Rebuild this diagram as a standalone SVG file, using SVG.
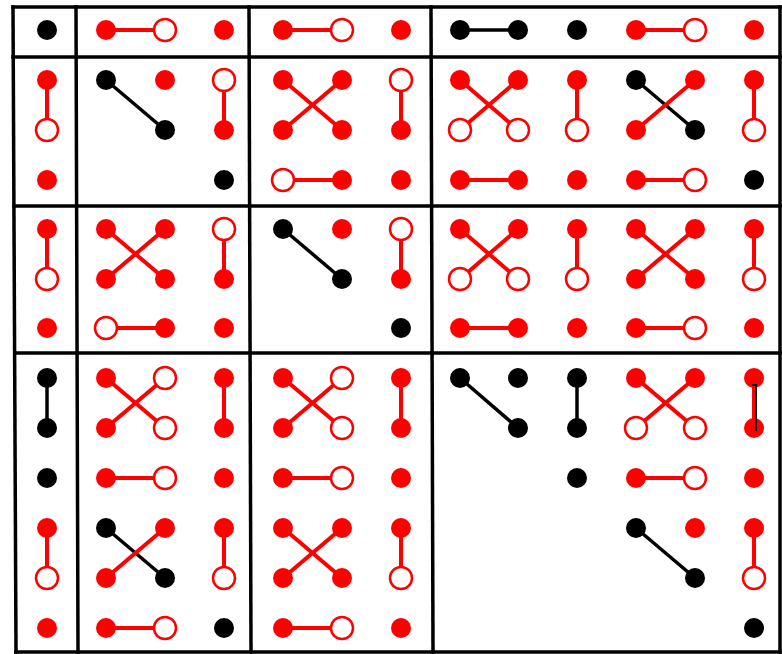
<svg xmlns="http://www.w3.org/2000/svg" width="782" height="654" viewBox="0 0 782 654">
<style>
.g{stroke:#000;stroke-width:3.5;fill:none;stroke-linecap:square}
.lr{stroke:#f00;stroke-width:4;fill:none}
.lk{stroke:#000;stroke-width:3.5;fill:none}
.f{fill:#f00}
.o{fill:#fff;stroke:#f00;stroke-width:2.5}
.k{fill:#000}
</style>
<rect width="782" height="654" fill="#fff"/>
<g id="grid">
<line class="g" x1="13" y1="7" x2="780" y2="7"/>
<line class="g" x1="13" y1="57" x2="780" y2="57"/>
<line class="g" x1="14" y1="206" x2="780" y2="206"/>
<line class="g" x1="15" y1="353" x2="780" y2="353"/>
<line class="g" x1="16" y1="652" x2="780" y2="652"/>
<line class="g" x1="13" y1="7" x2="16" y2="652"/>
<line class="g" x1="76" y1="7" x2="78" y2="652"/>
<line class="g" x1="249" y1="7" x2="251" y2="652"/>
<line class="g" x1="431" y1="7" x2="433" y2="652"/>
<line class="g" x1="780" y1="7" x2="780" y2="652"/>
</g>
<g id="connectors">
<!-- row 1 -->
<line class="lr" x1="106" y1="30" x2="165" y2="30"/>
<line class="lr" x1="283" y1="30" x2="342" y2="30"/>
<line class="lk" x1="460" y1="30" x2="518" y2="30"/>
<line class="lr" x1="636" y1="30" x2="695" y2="30"/>
<!-- band 2 -->
<line class="lr" x1="47" y1="80" x2="47" y2="130"/>
<line class="lk" x1="106" y1="80" x2="165" y2="130"/>
<line class="lr" x1="224" y1="80" x2="224" y2="130"/>
<line class="lr" x1="283" y1="80" x2="342" y2="130"/>
<line class="lr" x1="342" y1="80" x2="283" y2="130"/>
<line class="lr" x1="401" y1="80" x2="401" y2="130"/>
<line class="lr" x1="283" y1="180" x2="342" y2="180"/>
<line class="lr" x1="460" y1="80" x2="518" y2="130"/>
<line class="lr" x1="518" y1="80" x2="460" y2="130"/>
<line class="lr" x1="577" y1="80" x2="577" y2="130"/>
<line class="lk" x1="636" y1="80" x2="695" y2="130"/>
<line class="lr" x1="695" y1="80" x2="636" y2="130"/>
<line class="lr" x1="754" y1="80" x2="754" y2="130"/>
<line class="lr" x1="460" y1="180" x2="518" y2="180"/>
<line class="lr" x1="636" y1="180" x2="695" y2="180"/>
<!-- band 3 -->
<line class="lr" x1="47" y1="229" x2="47" y2="279"/>
<line class="lr" x1="106" y1="229" x2="165" y2="279"/>
<line class="lr" x1="165" y1="229" x2="106" y2="279"/>
<line class="lr" x1="224" y1="229" x2="224" y2="279"/>
<line class="lr" x1="106" y1="328" x2="165" y2="328"/>
<line class="lk" x1="283" y1="229" x2="342" y2="279"/>
<line class="lr" x1="401" y1="229" x2="401" y2="279"/>
<line class="lr" x1="460" y1="229" x2="518" y2="279"/>
<line class="lr" x1="518" y1="229" x2="460" y2="279"/>
<line class="lr" x1="577" y1="229" x2="577" y2="279"/>
<line class="lr" x1="636" y1="229" x2="695" y2="279"/>
<line class="lr" x1="695" y1="229" x2="636" y2="279"/>
<line class="lr" x1="754" y1="229" x2="754" y2="279"/>
<line class="lr" x1="460" y1="328" x2="518" y2="328"/>
<line class="lr" x1="636" y1="328" x2="695" y2="328"/>
<!-- band 4 -->
<line class="lk" x1="47" y1="378" x2="47" y2="428"/>
<line class="lr" x1="47" y1="528" x2="47" y2="578"/>
<line class="lr" x1="106" y1="378" x2="165" y2="428"/>
<line class="lr" x1="165" y1="378" x2="106" y2="428"/>
<line class="lr" x1="224" y1="378" x2="224" y2="428"/>
<line class="lr" x1="106" y1="478" x2="165" y2="478"/>
<line class="lk" x1="106" y1="528" x2="165" y2="578"/>
<line class="lr" x1="165" y1="528" x2="106" y2="578"/>
<line class="lr" x1="224" y1="528" x2="224" y2="578"/>
<line class="lr" x1="106" y1="628" x2="165" y2="628"/>
<line class="lr" x1="283" y1="378" x2="342" y2="428"/>
<line class="lr" x1="342" y1="378" x2="283" y2="428"/>
<line class="lr" x1="401" y1="378" x2="401" y2="428"/>
<line class="lr" x1="283" y1="478" x2="342" y2="478"/>
<line class="lr" x1="283" y1="528" x2="342" y2="578"/>
<line class="lr" x1="342" y1="528" x2="283" y2="578"/>
<line class="lr" x1="401" y1="528" x2="401" y2="578"/>
<line class="lr" x1="283" y1="628" x2="342" y2="628"/>
<line class="lk" x1="460" y1="378" x2="518" y2="428"/>
<line class="lk" x1="577" y1="378" x2="577" y2="428"/>
<line class="lr" x1="636" y1="378" x2="695" y2="428"/>
<line class="lr" x1="695" y1="378" x2="636" y2="428"/>
<line class="lr" x1="754" y1="378" x2="754" y2="428"/>
<line class="lr" x1="636" y1="478" x2="695" y2="478"/>
<line class="lk" x1="636" y1="528" x2="695" y2="578"/>
<line class="lr" x1="754" y1="528" x2="754" y2="578"/>
</g>
<g id="nodes">
<g id="n1-1"><circle class="k" cx="47" cy="30" r="10"/></g>
<g id="n1-2"><circle class="f" cx="106" cy="30" r="10"/></g>
<g id="n1-3"><circle class="o" cx="165" cy="30" r="11"/></g>
<g id="n1-4"><circle class="f" cx="224" cy="30" r="10"/></g>
<g id="n1-5"><circle class="f" cx="283" cy="30" r="10"/></g>
<g id="n1-6"><circle class="o" cx="342" cy="30" r="11"/></g>
<g id="n1-7"><circle class="f" cx="401" cy="30" r="10"/></g>
<g id="n1-8"><circle class="k" cx="460" cy="30" r="10"/></g>
<g id="n1-9"><circle class="k" cx="518" cy="30" r="10"/></g>
<g id="n1-10"><circle class="k" cx="577" cy="30" r="10"/></g>
<g id="n1-11"><circle class="f" cx="636" cy="30" r="10"/></g>
<g id="n1-12"><circle class="o" cx="695" cy="30" r="11"/></g>
<g id="n1-13"><circle class="f" cx="754" cy="30" r="10"/></g>

<g id="n2-1"><circle class="f" cx="47" cy="80" r="10"/></g>
<g id="n2-2"><circle class="k" cx="106" cy="80" r="10"/></g>
<g id="n2-3"><circle class="f" cx="165" cy="80" r="10"/></g>
<g id="n2-4"><circle class="o" cx="224" cy="80" r="11"/></g>
<g id="n2-5"><circle class="f" cx="283" cy="80" r="10"/></g>
<g id="n2-6"><circle class="f" cx="342" cy="80" r="10"/></g>
<g id="n2-7"><circle class="o" cx="401" cy="80" r="11"/></g>
<g id="n2-8"><circle class="f" cx="460" cy="80" r="10"/></g>
<g id="n2-9"><circle class="f" cx="518" cy="80" r="10"/></g>
<g id="n2-10"><circle class="f" cx="577" cy="80" r="10"/></g>
<g id="n2-11"><circle class="k" cx="636" cy="80" r="10"/></g>
<g id="n2-12"><circle class="f" cx="695" cy="80" r="10"/></g>
<g id="n2-13"><circle class="f" cx="754" cy="80" r="10"/></g>

<g id="n3-1"><circle class="o" cx="47" cy="130" r="11"/></g>
<g id="n3-3"><circle class="k" cx="165" cy="130" r="10"/></g>
<g id="n3-4"><circle class="f" cx="224" cy="130" r="10"/></g>
<g id="n3-5"><circle class="f" cx="283" cy="130" r="10"/></g>
<g id="n3-6"><circle class="f" cx="342" cy="130" r="10"/></g>
<g id="n3-7"><circle class="f" cx="401" cy="130" r="10"/></g>
<g id="n3-8"><circle class="o" cx="460" cy="130" r="11"/></g>
<g id="n3-9"><circle class="o" cx="518" cy="130" r="11"/></g>
<g id="n3-10"><circle class="o" cx="577" cy="130" r="11"/></g>
<g id="n3-11"><circle class="f" cx="636" cy="130" r="10"/></g>
<g id="n3-12"><circle class="k" cx="695" cy="130" r="10"/></g>
<g id="n3-13"><circle class="o" cx="754" cy="130" r="11"/></g>

<g id="n4-1"><circle class="f" cx="47" cy="180" r="10"/></g>
<g id="n4-4"><circle class="k" cx="224" cy="180" r="10"/></g>
<g id="n4-5"><circle class="o" cx="283" cy="180" r="11"/></g>
<g id="n4-6"><circle class="f" cx="342" cy="180" r="10"/></g>
<g id="n4-7"><circle class="f" cx="401" cy="180" r="10"/></g>
<g id="n4-8"><circle class="f" cx="460" cy="180" r="10"/></g>
<g id="n4-9"><circle class="f" cx="518" cy="180" r="10"/></g>
<g id="n4-10"><circle class="f" cx="577" cy="180" r="10"/></g>
<g id="n4-11"><circle class="f" cx="636" cy="180" r="10"/></g>
<g id="n4-12"><circle class="o" cx="695" cy="180" r="11"/></g>
<g id="n4-13"><circle class="k" cx="754" cy="180" r="10"/></g>

<g id="n5-1"><circle class="f" cx="47" cy="229" r="10"/></g>
<g id="n5-2"><circle class="f" cx="106" cy="229" r="10"/></g>
<g id="n5-3"><circle class="f" cx="165" cy="229" r="10"/></g>
<g id="n5-4"><circle class="o" cx="224" cy="229" r="11"/></g>
<g id="n5-5"><circle class="k" cx="283" cy="229" r="10"/></g>
<g id="n5-6"><circle class="f" cx="342" cy="229" r="10"/></g>
<g id="n5-7"><circle class="o" cx="401" cy="229" r="11"/></g>
<g id="n5-8"><circle class="f" cx="460" cy="229" r="10"/></g>
<g id="n5-9"><circle class="f" cx="518" cy="229" r="10"/></g>
<g id="n5-10"><circle class="f" cx="577" cy="229" r="10"/></g>
<g id="n5-11"><circle class="f" cx="636" cy="229" r="10"/></g>
<g id="n5-12"><circle class="f" cx="695" cy="229" r="10"/></g>
<g id="n5-13"><circle class="f" cx="754" cy="229" r="10"/></g>

<g id="n6-1"><circle class="o" cx="47" cy="279" r="11"/></g>
<g id="n6-2"><circle class="f" cx="106" cy="279" r="10"/></g>
<g id="n6-3"><circle class="f" cx="165" cy="279" r="10"/></g>
<g id="n6-4"><circle class="f" cx="224" cy="279" r="10"/></g>
<g id="n6-6"><circle class="k" cx="342" cy="279" r="10"/></g>
<g id="n6-7"><circle class="f" cx="401" cy="279" r="10"/></g>
<g id="n6-8"><circle class="o" cx="460" cy="279" r="11"/></g>
<g id="n6-9"><circle class="o" cx="518" cy="279" r="11"/></g>
<g id="n6-10"><circle class="o" cx="577" cy="279" r="11"/></g>
<g id="n6-11"><circle class="f" cx="636" cy="279" r="10"/></g>
<g id="n6-12"><circle class="f" cx="695" cy="279" r="10"/></g>
<g id="n6-13"><circle class="o" cx="754" cy="279" r="11"/></g>

<g id="n7-1"><circle class="f" cx="47" cy="328" r="10"/></g>
<g id="n7-2"><circle class="o" cx="106" cy="328" r="11"/></g>
<g id="n7-3"><circle class="f" cx="165" cy="328" r="10"/></g>
<g id="n7-4"><circle class="f" cx="224" cy="328" r="10"/></g>
<g id="n7-7"><circle class="k" cx="401" cy="328" r="10"/></g>
<g id="n7-8"><circle class="f" cx="460" cy="328" r="10"/></g>
<g id="n7-9"><circle class="f" cx="518" cy="328" r="10"/></g>
<g id="n7-10"><circle class="f" cx="577" cy="328" r="10"/></g>
<g id="n7-11"><circle class="f" cx="636" cy="328" r="10"/></g>
<g id="n7-12"><circle class="o" cx="695" cy="328" r="11"/></g>
<g id="n7-13"><circle class="f" cx="754" cy="328" r="10"/></g>

<g id="n8-1"><circle class="k" cx="47" cy="378" r="10"/></g>
<g id="n8-2"><circle class="f" cx="106" cy="378" r="10"/></g>
<g id="n8-3"><circle class="o" cx="165" cy="378" r="11"/></g>
<g id="n8-4"><circle class="f" cx="224" cy="378" r="10"/></g>
<g id="n8-5"><circle class="f" cx="283" cy="378" r="10"/></g>
<g id="n8-6"><circle class="o" cx="342" cy="378" r="11"/></g>
<g id="n8-7"><circle class="f" cx="401" cy="378" r="10"/></g>
<g id="n8-8"><circle class="k" cx="460" cy="378" r="10"/></g>
<g id="n8-9"><circle class="k" cx="518" cy="378" r="10"/></g>
<g id="n8-10"><circle class="k" cx="577" cy="378" r="10"/></g>
<g id="n8-11"><circle class="f" cx="636" cy="378" r="10"/></g>
<g id="n8-12"><circle class="f" cx="695" cy="378" r="10"/></g>
<g id="n8-13"><circle class="f" cx="754" cy="378" r="10"/></g>

<g id="n9-1"><circle class="k" cx="47" cy="428" r="10"/></g>
<g id="n9-2"><circle class="f" cx="106" cy="428" r="10"/></g>
<g id="n9-3"><circle class="o" cx="165" cy="428" r="11"/></g>
<g id="n9-4"><circle class="f" cx="224" cy="428" r="10"/></g>
<g id="n9-5"><circle class="f" cx="283" cy="428" r="10"/></g>
<g id="n9-6"><circle class="o" cx="342" cy="428" r="11"/></g>
<g id="n9-7"><circle class="f" cx="401" cy="428" r="10"/></g>
<g id="n9-9"><circle class="k" cx="518" cy="428" r="10"/></g>
<g id="n9-10"><circle class="k" cx="577" cy="428" r="10"/></g>
<g id="n9-11"><circle class="o" cx="636" cy="428" r="11"/></g>
<g id="n9-12"><circle class="o" cx="695" cy="428" r="11"/></g>
<g id="n9-13"><circle class="f" cx="754" cy="428" r="10"/></g>

<g id="n10-1"><circle class="k" cx="47" cy="478" r="10"/></g>
<g id="n10-2"><circle class="f" cx="106" cy="478" r="10"/></g>
<g id="n10-3"><circle class="o" cx="165" cy="478" r="11"/></g>
<g id="n10-4"><circle class="f" cx="224" cy="478" r="10"/></g>
<g id="n10-5"><circle class="f" cx="283" cy="478" r="10"/></g>
<g id="n10-6"><circle class="o" cx="342" cy="478" r="11"/></g>
<g id="n10-7"><circle class="f" cx="401" cy="478" r="10"/></g>
<g id="n10-10"><circle class="k" cx="577" cy="478" r="10"/></g>
<g id="n10-11"><circle class="f" cx="636" cy="478" r="10"/></g>
<g id="n10-12"><circle class="o" cx="695" cy="478" r="11"/></g>
<g id="n10-13"><circle class="f" cx="754" cy="478" r="10"/></g>

<g id="n11-1"><circle class="f" cx="47" cy="528" r="10"/></g>
<g id="n11-2"><circle class="k" cx="106" cy="528" r="10"/></g>
<g id="n11-3"><circle class="f" cx="165" cy="528" r="10"/></g>
<g id="n11-4"><circle class="f" cx="224" cy="528" r="10"/></g>
<g id="n11-5"><circle class="f" cx="283" cy="528" r="10"/></g>
<g id="n11-6"><circle class="f" cx="342" cy="528" r="10"/></g>
<g id="n11-7"><circle class="f" cx="401" cy="528" r="10"/></g>
<g id="n11-11"><circle class="k" cx="636" cy="528" r="10"/></g>
<g id="n11-12"><circle class="f" cx="695" cy="528" r="10"/></g>
<g id="n11-13"><circle class="f" cx="754" cy="528" r="10"/></g>

<g id="n12-1"><circle class="o" cx="47" cy="578" r="11"/></g>
<g id="n12-2"><circle class="f" cx="106" cy="578" r="10"/></g>
<g id="n12-3"><circle class="k" cx="165" cy="578" r="10"/></g>
<g id="n12-4"><circle class="o" cx="224" cy="578" r="11"/></g>
<g id="n12-5"><circle class="f" cx="283" cy="578" r="10"/></g>
<g id="n12-6"><circle class="f" cx="342" cy="578" r="10"/></g>
<g id="n12-7"><circle class="o" cx="401" cy="578" r="11"/></g>
<g id="n12-12"><circle class="k" cx="695" cy="578" r="10"/></g>
<g id="n12-13"><circle class="o" cx="754" cy="578" r="11"/></g>

<g id="n13-1"><circle class="f" cx="47" cy="628" r="10"/></g>
<g id="n13-2"><circle class="f" cx="106" cy="628" r="10"/></g>
<g id="n13-3"><circle class="o" cx="165" cy="628" r="11"/></g>
<g id="n13-4"><circle class="k" cx="224" cy="628" r="10"/></g>
<g id="n13-5"><circle class="f" cx="283" cy="628" r="10"/></g>
<g id="n13-6"><circle class="o" cx="342" cy="628" r="11"/></g>
<g id="n13-7"><circle class="f" cx="401" cy="628" r="10"/></g>
<g id="n13-13"><circle class="k" cx="754" cy="628" r="10"/></g>
</g>
<g id="overlay">
<path d="M752,385 H756 V431" fill="none" stroke="#000" stroke-width="2"/>
</g>
</svg>
